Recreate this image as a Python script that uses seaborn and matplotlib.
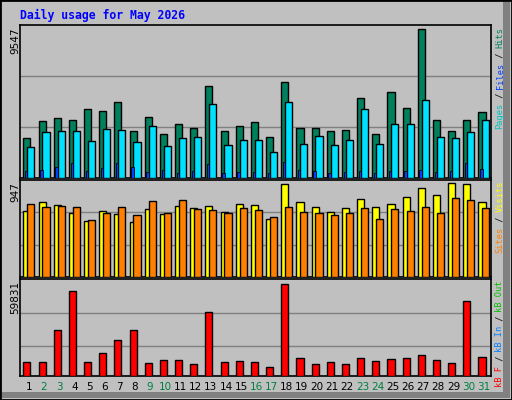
import numpy as np
import matplotlib
matplotlib.use('Agg')
import matplotlib.pyplot as plt
from matplotlib.patches import Rectangle
import seaborn as sns

sns.set_theme(style='white')

# Daily values
days = list(range(1, 32))
hits = [2549, 3650, 3845, 3715, 4428, 4298, 4882, 3002, 3910, 2808, 3456, 3197, 5918, 3002, 3326, 3586,
        2614, 6178, 3197, 3197, 3002, 3067, 5141, 2808, 5530, 4493, 9547, 3715, 3002, 3715, 4234]
files = [1966, 2938, 3002, 3002, 2354, 3132, 3067, 2290, 3326, 2030, 2549, 2614, 4752, 2095, 2419, 2419,
         1642, 4882, 2160, 2678, 2095, 2419, 4428, 2160, 3456, 3456, 5011, 2614, 2549, 2938, 3715]
pages = [475, 540, 734, 994, 475, 670, 994, 734, 410, 540, 346, 475, 929, 346, 410, 410,
         346, 1058, 540, 475, 346, 410, 475, 346, 475, 475, 540, 410, 475, 994, 605]
visits = [670, 763, 732, 650, 568, 670, 640, 557, 691, 640, 722, 701, 722, 660, 742, 732,
          588, 937, 763, 711, 660, 701, 793, 711, 742, 814, 896, 834, 947, 937, 763]
sites = [742, 711, 722, 711, 578, 650, 711, 629, 773, 650, 783, 691, 681, 650, 701, 681,
         609, 711, 660, 650, 629, 650, 701, 588, 691, 670, 711, 650, 804, 783, 701]
kbytes = [9390, 9390, 29700, 55250, 9390, 15290, 23800, 29700, 8740, 10700, 10700, 8080, 41500, 9390, 10050, 9390,
          6115, 59831, 12010, 8080, 9390, 8080, 12010, 10050, 11360, 12010, 13980, 10700, 8740, 48700, 12670]
weekend = [2, 3, 9, 10, 16, 17, 23, 24, 30, 31]

BG = '#C0C0C0'
W = 512
H = 400
fig = plt.figure(figsize=(W / 100, H / 100), dpi=100)
fig.patch.set_facecolor(BG)

# outer frame
fig.patches.append(Rectangle((0, 0), 1, 1, transform=fig.transFigure, fill=False, ec='black', lw=2))
fig.patches.append(Rectangle((503 / W, 2 / H), 7 / W, 396 / H, transform=fig.transFigure, color='#808080', lw=0))
fig.patches.append(Rectangle((2 / W, 2 / H), 508 / W, 6 / H, transform=fig.transFigure, color='#808080', lw=0))


def make_ax(top, bottom):
    ax = fig.add_axes([20 / W, 1 - bottom / H, 471 / W, (bottom - top) / H])
    ax.set_facecolor(BG)
    for s in ax.spines.values():
        s.set_color('black')
        s.set_linewidth(1.2)
    ax.set_xlim(0.55, 31.6)
    ax.set_xticks([])
    ax.set_yticks([])
    ax.axhline(0, color='none')
    return ax


d = np.array(days)
bw = 0.47
ek = dict(edgecolor='black', linewidth=1, align='edge', zorder=3)

ax1 = make_ax(25, 178)
ax1.set_ylim(0, 9825)
for f in (1 / 3, 2 / 3):
    ax1.axhline(9825 * f, color='#808080', lw=1, zorder=1)
ax1.bar(d - 0.23, hits, bw, color='#00805c', **ek)
ax1.bar(d + 0.03, files, bw, color='#00e0ff', **ek)
ax1.bar(d - 0.12, pages, 0.16, color='#0040ff', edgecolor='black', linewidth=0.6, align='edge', zorder=4)

ax2 = make_ax(180, 277)
ax2.set_ylim(0, 981)
for f in (1 / 3, 2 / 3):
    ax2.axhline(981 * f, color='#808080', lw=1, zorder=1)
ax2.bar(d - 0.23, visits, bw, color='#ffff00', **ek)
ax2.bar(d + 0.03, sites, bw, color='#ff8000', **ek)

ax3 = make_ax(279, 376)
ax3.set_ylim(0, 63300)
for f in (0.31, 0.645):
    ax3.axhline(63300 * f, color='#808080', lw=1, zorder=1)
ax3.bar(d - 0.23, kbytes, bw, color='#ff0000', **ek)
ax3.set_xticks(d + 0.13)
ax3.set_xticklabels([str(x) for x in days], fontsize=7.5, family='DejaVu Sans')
ax3.tick_params(axis='x', length=0, pad=4)
for lab, day in zip(ax3.get_xticklabels(), days):
    lab.set_color('#008040' if day in weekend else 'black')

# title
fig.text(20 / W, 1 - 15 / H, 'Daily usage for May 2026', color='#0000ff', fontsize=8.3,
         family='DejaVu Sans Mono', fontweight='bold', va='center', ha='left')

# left max labels
for top, txt in ((27, '9547'), (182, '947'), (281, '59831')):
    fig.text(15 / W, 1 - top / H, txt, rotation=90, fontsize=7.5, family='DejaVu Sans',
             ha='center', va='top', color='black')

# right legends, drawn piece by piece from the top downward
CH = 5.05


def legend(top, parts):
    y = top
    for txt, col in parts:
        fig.text(500 / W, 1 - y / H, txt, rotation=90, fontsize=6.2, family='DejaVu Sans Mono',
                 ha='center', va='top', color=col)
        y += CH * len(txt)


legend(27, [('Hits', '#00805c'), (' / ', '#000000'), ('Files', '#0040ff'), (' / ', '#000000'),
            ('Pages', '#00c0c0')])
legend(181, [('Visits', '#ffff00'), (' / ', '#000000'), ('Sites', '#ff8000')])
legend(280, [('kB Out', '#00c000'), (' / ', '#000000'), ('kB In', '#0080ff'), (' / ', '#000000'),
             ('kB F', '#ff0000')])

fig.savefig('out.png', dpi=100, facecolor=BG)
